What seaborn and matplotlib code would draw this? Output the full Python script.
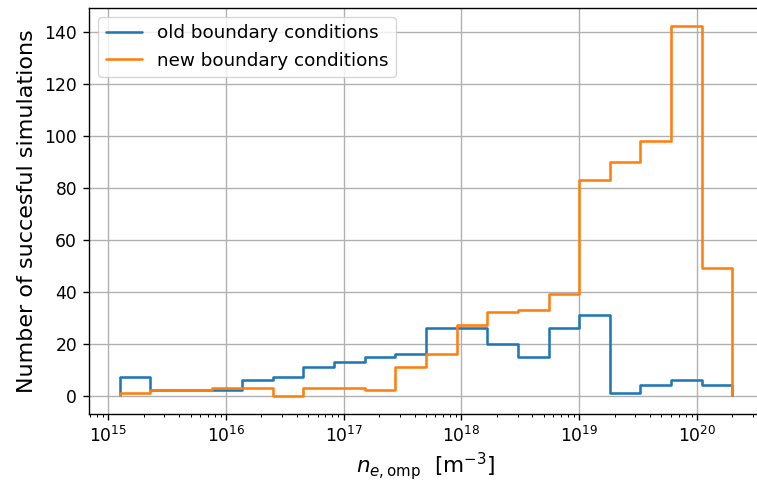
import numpy as np
import pandas as pd
import matplotlib
matplotlib.use("Agg")
import matplotlib.pyplot as plt
import seaborn as sns

# Logarithmic bins of the outer-midplane electron density [m^-3]
n_bins = 20
n_min, n_max = 1.25e15, 2.0e20
edges = np.logspace(np.log10(n_min), np.log10(n_max), n_bins + 1)
centers = np.sqrt(edges[:-1] * edges[1:])

# Number of converged runs in each density bin
old_counts = [7, 2, 2, 2, 6, 7, 11, 13, 15, 16, 26, 26, 20, 15, 26, 31, 1, 4, 6, 4]
new_counts = [1, 2, 2, 3, 3, 0, 3, 3, 2, 11, 16, 27, 32, 33, 39, 83, 90, 98, 142, 49]

labels = ["old boundary conditions", "new boundary conditions"]
colors = ["#1f77b4", "#ff7f0e"]

s = 1.23  # overall scale of line widths, tick sizes and paddings
sns.set_theme(style="ticks", rc={
    "axes.edgecolor": "black",
    "axes.linewidth": 0.8 * s,
    "xtick.major.size": 3.5 * s, "xtick.minor.size": 2 * s,
    "ytick.major.size": 3.5 * s,
    "xtick.major.pad": 3.5 * s, "ytick.major.pad": 3.5 * s,
    "xtick.major.width": 0.8 * s, "xtick.minor.width": 0.6 * s,
    "ytick.major.width": 0.8 * s,
    "xtick.color": "black", "ytick.color": "black",
    "axes.labelcolor": "black", "text.color": "black",
    "axes.labelpad": 4 * s,
    "grid.color": "#b0b0b0", "grid.linewidth": 0.8 * s,
})
plt.rcParams["font.family"] = ["DejaVu Sans"]

fig = plt.figure(figsize=(7.57, 4.84), dpi=100)
ax = fig.add_axes([89 / 757, 1 - 414 / 484, (763 - 89) / 757, (414 - 8) / 484])

lw = 1.5 * s
for counts, label, color, z in zip([old_counts, new_counts], labels, colors, [2.0, 2.2]):
    df = pd.DataFrame({"density": centers, "count": np.asarray(counts, dtype=float)})
    # on a log axis seaborn takes the bin edges in log10 units
    sns.histplot(data=df, x="density", weights="count", bins=np.log10(edges).tolist(),
                 log_scale=True, element="step", fill=False, color=color,
                 linewidth=lw, ax=ax, label=label, zorder=z)
    # close the step outline down to zero at the outer bin edges
    ax.vlines([edges[0], edges[-1]], 0, [counts[0], counts[-1]], color=color,
              linewidth=lw, zorder=z + 0.05)

# standard 5 % padding around the data on both axes
top = max(max(old_counts), max(new_counts))
ax.set_ylim(-0.05 * top, 1.05 * top)
span = np.log10(edges[-1]) - np.log10(edges[0])
ax.set_xlim(10 ** (np.log10(edges[0]) - 0.05 * span), 10 ** (np.log10(edges[-1]) + 0.05 * span))

ax.grid(True, which="major")
ax.set_axisbelow(True)
ax.tick_params(axis="both", which="major", labelsize=12.3)

ax.set_xlabel(r"$n_{e,\mathrm{omp}}$  [m$^{-3}$]", fontsize=15.5, labelpad=2.5)
ax.set_ylabel("Number of succesful simulations", fontsize=16)
ax.legend(loc="upper left", fontsize=13.2, frameon=True, framealpha=0.8,
          edgecolor="0.8", fancybox=True)

fig.savefig("out.png", dpi=100)
